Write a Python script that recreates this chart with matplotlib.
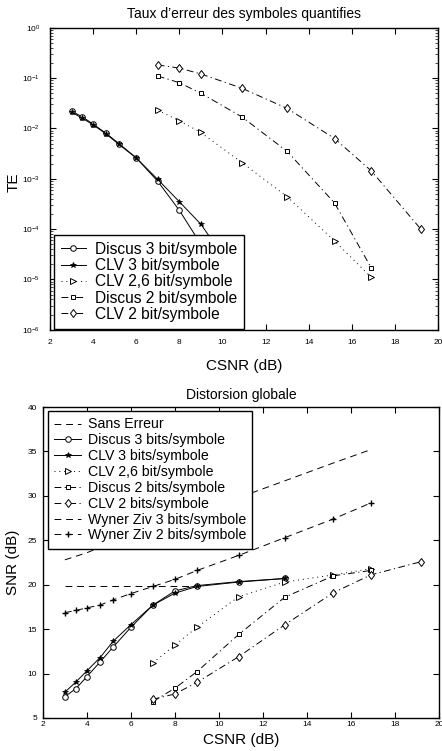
import matplotlib

matplotlib.use("Agg")
import matplotlib.pyplot as plt

plt.rcParams["font.family"] = ["Liberation Sans", "DejaVu Sans"]
plt.rcParams["mathtext.fontset"] = "custom"
plt.rcParams["mathtext.rm"] = "Liberation Sans"

# --- taux d'erreur (top) ---
te_x_discus3 = [3, 3.5, 4, 4.6, 5.2, 6, 7, 8, 9]
te_discus3 = [0.022, 0.017, 0.0122, 0.008, 0.005, 0.0026, 0.00089, 2.36e-4, 5e-5]
te_x_clv3 = [3, 3.5, 4, 4.6, 5.2, 6, 7, 8, 9, 10]
te_clv3 = [0.021, 0.016, 0.0118, 0.0078, 0.0048, 0.0026, 0.00097, 3.5e-4, 1.25e-4, 3e-5]

te_x2 = [7, 8, 9, 10.9, 13, 15.2, 16.9]
te_clv26 = [0.023, 0.0142, 0.0083, 0.0021, 4.4e-4, 5.8e-5, 1.1e-5]
te_discus2 = [0.11, 0.081, 0.05, 0.017, 0.0035, 3.3e-4, 1.7e-5]
te_x2b = [7, 8, 9, 10.9, 13, 15.2, 16.9, 19.2]
te_clv2 = [0.183, 0.158, 0.121, 0.063, 0.025, 0.0063, 0.00144, 1e-4]

# --- distorsion globale (bottom) ---
d_x3 = [3, 3.5, 4, 4.6, 5.2, 6, 7, 8, 9, 10.9, 13]
d_discus3 = [7.4, 8.3, 9.65, 11.3, 13.0, 15.2, 17.7, 19.3, 19.9, 20.35, 20.7]
d_clv3 = [7.9, 9.05, 10.3, 11.8, 13.65, 15.5, 17.7, 19.05, 19.8, 20.3, 20.7]

d_x26 = [7, 8, 9, 10.9, 13, 15.2, 16.9]
d_clv26 = [11.2, 13.2, 15.2, 18.65, 20.3, 21.1, 21.8]
d_discus2 = [6.85, 8.35, 10.2, 14.4, 18.6, 21.0, 21.6]
d_x2 = [7, 8, 9, 10.9, 13, 15.2, 16.9, 19.2]
d_clv2 = [7.1, 7.7, 9.0, 11.9, 15.5, 19.1, 21.1, 22.6]

sans_x = [3, 9.2]
sans_erreur = [19.8, 19.8]

wz_x = [3, 3.5, 4, 4.6, 5.2, 6, 7, 8, 9, 10.9, 13, 15.2, 16.9]
wz3 = [22.8, 23.2, 23.6, 24.2, 24.7, 25.4, 26.3, 27.2, 28.1, 29.8, 31.7, 33.7, 35.2]
wz2 = [16.85, 17.1, 17.4, 17.7, 18.3, 19.0, 19.8, 20.6, 21.6, 23.3, 25.3, 27.4, 29.2]

x_ticks = list(range(2, 21, 2))

# dash patterns (scaled by line width)
DASH = (7, 5)
DASHDOT = (7, 3.5, 1.2, 3.5)
DOT = (1, 4)


def _style(axis):
    axis.tick_params(direction="in", top=True, right=True, labelsize=6, length=4, width=0.8)
    axis.tick_params(which="minor", direction="in", top=True, right=True, length=2, width=0.5)
    for spine in axis.spines.values():
        spine.set_linewidth(1.0)
    axis.set_xlim(2, 20)
    axis.set_xticks(x_ticks)


fig = plt.figure(figsize=(4.42, 7.51), dpi=100)
kw = dict(color="black", linewidth=0.7, markerfacecolor="white", markeredgewidth=0.7)
star = dict(color="black", linewidth=0.7, markerfacecolor="black", markeredgewidth=0.5)

top = fig.add_axes([0.113, 0.561, 0.878, 0.402])
top.semilogy(te_x_discus3, te_discus3, "-o", markersize=4, label="Discus 3 bit/symbole", **kw)
top.semilogy(te_x_clv3, te_clv3, "-*", markersize=4, label="CLV 3 bit/symbole", **star)
top.semilogy(te_x2, te_clv26, ">", linestyle=(0, DOT), markersize=4,
             label="CLV 2,6 bit/symbole", **kw)
top.semilogy(te_x2, te_discus2, "s", linestyle=(0, DASHDOT), markersize=3,
             label="Discus 2 bit/symbole", **kw)
top.semilogy(te_x2b, te_clv2, "d", linestyle=(0, DASHDOT), markersize=4.5,
             label="CLV 2 bit/symbole", **kw)
_style(top)
top.set_ylim(1e-6, 1)
top.tick_params(axis="x", pad=7)
top.tick_params(axis="y", pad=7)
top.set_title("Taux d\u2019erreur des symboles quantifies", fontsize=10, pad=7)
top.set_xlabel("CSNR (dB)", fontsize=11, labelpad=9)
top.set_ylabel("TE", fontsize=11)
top.yaxis.set_label_coords(-0.075, 0.49)
leg = top.legend(loc="lower left", bbox_to_anchor=(0.01, 0.003), borderaxespad=0,
                 fontsize=11.2, handlelength=1.6, handletextpad=0.6, labelspacing=0.08,
                 fancybox=False, framealpha=1, edgecolor="black", borderpad=0.45)
leg.get_frame().set_linewidth(1.0)

bot = fig.add_axes([0.097, 0.044, 0.896, 0.414])
bot.plot(sans_x, sans_erreur, color="black", linewidth=0.7, linestyle=(0, DASH),
         label="Sans Erreur")
bot.plot(d_x3, d_discus3, "-o", markersize=4, label="Discus 3 bits/symbole", **kw)
bot.plot(d_x3, d_clv3, "-*", markersize=4, label="CLV 3 bits/symbole", **star)
bot.plot(d_x26, d_clv26, ">", linestyle=(0, DOT), markersize=4,
         label="CLV 2,6 bit/symbole", **kw)
bot.plot(d_x26, d_discus2, "s", linestyle=(0, DASHDOT), markersize=3,
         label="Discus 2 bits/symbole", **kw)
bot.plot(d_x2, d_clv2, "d", linestyle=(0, DASHDOT), markersize=4.5,
         label="CLV 2 bits/symbole", **kw)
bot.plot(wz_x, wz3, color="black", linewidth=0.7, linestyle=(0, DASH),
         label="Wyner Ziv 3 bits/symbole")
bot.plot(wz_x, wz2, "+", color="black", linewidth=0.7, linestyle=(0, DASH), markersize=5,
         label="Wyner Ziv 2 bits/symbole")
_style(bot)
bot.set_ylim(5, 40)
bot.set_yticks(range(5, 41, 5))
bot.tick_params(axis="x", pad=2)
bot.tick_params(axis="y", pad=4)
bot.set_title("Distorsion globale", fontsize=10, pad=6)
bot.set_xlabel("CSNR (dB)", fontsize=11, labelpad=4)
bot.set_ylabel("SNR (dB)", fontsize=11)
bot.yaxis.set_label_coords(-0.058, 0.5)
leg = bot.legend(loc="upper left", bbox_to_anchor=(0.0126, 0.987), borderaxespad=0,
                 fontsize=10.2, handlelength=1.9, handletextpad=0.45, labelspacing=0.13,
                 fancybox=False, framealpha=1, edgecolor="black", borderpad=0.45)
leg.get_frame().set_linewidth(1.0)

fig.savefig("out.png", dpi=100)
plt.close(fig)
